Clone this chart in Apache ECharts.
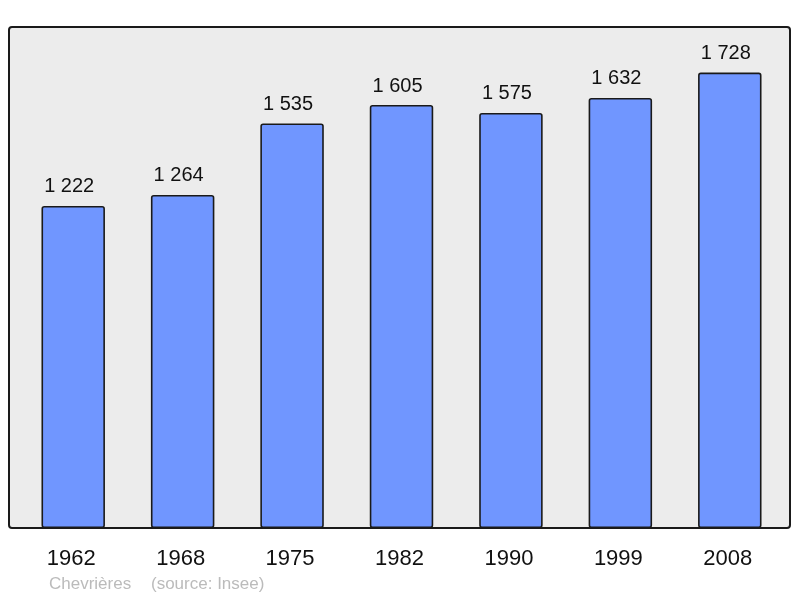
<!DOCTYPE html>
<html>
<head>
<meta charset="utf-8">
<script src="https://cdn.jsdelivr.net/npm/echarts@6/dist/echarts.min.js"></script>
<style>
  html, body { margin: 0; padding: 0; background: #fff; }
  #main { width: 800px; height: 598px; }
</style>
</head>
<body>
<div id="main"></div>
<script>
var years = ['1962', '1968', '1975', '1982', '1990', '1999', '2008'];
var population = [1222, 1264, 1535, 1605, 1575, 1632, 1728];
var townName = 'Chevrières';
var sourceText = '(source: Insee)';

function formatNumber(v) {
  return String(v).replace(/\B(?=(\d{3})+(?!\d))/g, ' ');
}

var chart = echarts.init(document.getElementById('main'));

var option = {
  animation: false,
  backgroundColor: '#ffffff',
  graphic: [
    {
      type: 'rect',
      z: -1,
      shape: { x: 9, y: 27, width: 781, height: 501, r: 3 },
      style: { fill: '#ececec', stroke: '#1a1a1a', lineWidth: 2 }
    },
    {
      type: 'text',
      left: 49,
      top: 576,
      style: { text: townName, fill: '#bbbbbb', font: '17px "Liberation Sans", Arial, sans-serif' }
    },
    {
      type: 'text',
      left: 151,
      top: 576,
      style: { text: sourceText, fill: '#bbbbbb', font: '17px "Liberation Sans", Arial, sans-serif' }
    }
  ],
  grid: {
    left: 18.5,
    width: 766,
    top: 27,
    bottom: 70,
    containLabel: false
  },
  xAxis: {
    type: 'category',
    data: years,
    axisLine: { show: false },
    axisTick: { show: false },
    axisLabel: {
      color: '#111',
      fontSize: 22,
      fontFamily: '"Liberation Sans", Arial, sans-serif',
      margin: 20,
      padding: [0, 4, 0, 0]
    }
  },
  yAxis: {
    type: 'value',
    min: 0,
    max: 1901,
    show: false,
    splitLine: { show: false }
  },
  series: [
    {
      type: 'bar',
      data: population,
      barCategoryGap: '42%',
      itemStyle: {
        color: '#7096ff',
        borderColor: '#1a1a1a',
        borderWidth: 1.6,
        borderRadius: 2
      },
      label: {
        show: true,
        position: 'top',
        distance: 9,
        offset: [-4, 0],
        color: '#111',
        fontSize: 20,
        fontFamily: '"Liberation Sans", Arial, sans-serif',
        formatter: function (p) { return formatNumber(p.value); }
      }
    }
  ]
};

chart.setOption(option);
</script>
</body>
</html>
